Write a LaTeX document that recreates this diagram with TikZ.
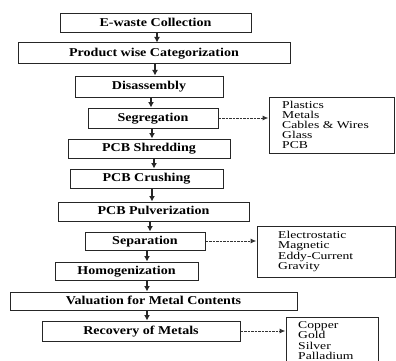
\documentclass[tikz,border=0pt]{standalone}
\usepackage{fontspec}
\setmainfont{Liberation Serif}[FakeStretch=1.17]
\newfontfamily\listfont{Liberation Serif}[FakeStretch=1.3]
\usetikzlibrary{arrows.meta}
\begin{document}
\begin{tikzpicture}[x=1pt,y=-1pt,
  box/.style={draw=black!85, line width=1pt, inner sep=0pt,
    font=\fontsize{12}{12}\selectfont\bfseries, text height=8.5pt, text depth=2.5pt},
  listbox/.style={draw=black!85, line width=1pt, inner sep=0pt},
  item/.style={anchor=base west, inner sep=0pt, font=\listfont\fontsize{10.5}{10.5}\selectfont},
  down/.style={draw=black!85, line width=1.2pt, -{Latex[length=5.5pt,width=6pt]}},
  side/.style={draw=black!80, line width=1pt, dash pattern=on 2.5pt off 1pt, -{Latex[length=6pt,width=5pt]}}]
\useasboundingbox (0,0) rectangle (396,361);
\clip (0,0) rectangle (396,361);

% main flow
\node[box, minimum width=191pt, minimum height=19pt] (ew)   at (155.5,23.5) {E-waste Collection};
\node[box, minimum width=272pt, minimum height=21pt] (cat)  at (154,53.5)   {Product wise Categorization};
\node[box, minimum width=148pt, minimum height=21pt] (dis)  at (149,86.5)   {Disassembly};
\node[box, minimum width=130pt, minimum height=20pt] (seg)  at (153,118)    {Segregation};
\node[box, minimum width=162pt, minimum height=19pt] (shr)  at (149,148.5)  {PCB Shredding};
\node[box, minimum width=153pt, minimum height=19pt] (cru)  at (146.5,178.5){PCB Crushing};
\node[box, minimum width=191pt, minimum height=19pt] (pul)  at (153.5,211.5){PCB Pulverization};
\node[box, minimum width=120pt, minimum height=18pt] (sep)  at (145,241)    {Separation};
\node[box, minimum width=143pt, minimum height=18pt] (hom)  at (126.5,271)  {Homogenization};
\node[box, minimum width=287pt, minimum height=18pt] (val)  at (153.5,301)  {Valuation for Metal Contents};
\node[box, minimum width=198pt, minimum height=20pt] (rec)  at (141,331)    {Recovery of Metals};

% side lists
\node[listbox, minimum width=125pt, minimum height=56pt] (la) at (331.5,125) {};
\node[item] (a1) at (282,108.5) {Plastics};
\node[item] (a2) at (282,118.5) {Metals};
\node[item] (a3) at (282,128.5) {Cables \& Wires};
\node[item] (a4) at (282,138.5) {Glass};
\node[item] (a5) at (282,148.5) {PCB};

\node[listbox, minimum width=138pt, minimum height=51pt] (lb) at (326,251.5) {};
\node[item] (b1) at (278,238) {Electrostatic};
\node[item] (b2) at (278,248.5) {Magnetic};
\node[item] (b3) at (278,259) {Eddy-Current};
\node[item] (b4) at (278,269.5) {Gravity};

\node[listbox, minimum width=92pt, minimum height=53pt] (lc) at (332,343.5) {};
\node[item] (c1) at (298,328.5) {Copper};
\node[item] (c2) at (298,338.5) {Gold};
\node[item] (c3) at (298,349) {Silver};
\node[item] (c4) at (298,359.5) {Palladium};

% arrow columns
\coordinate (v1) at (157,0);
\coordinate (v2) at (155,0);
\coordinate (v3) at (151,0);
\coordinate (v4) at (152,0);
\coordinate (v5) at (154,0);
\coordinate (v6) at (152,0);
\coordinate (v7) at (150,0);
\coordinate (v8) at (147,0);

\draw[down] (ew.south -| v1)  -- (cat.north -| v1);
\draw[down] (cat.south -| v2) -- (dis.north -| v2);
\draw[down] (dis.south -| v3) -- (seg.north -| v3);
\draw[down] (seg.south -| v4) -- (shr.north -| v4);
\draw[down] (shr.south -| v5) -- (cru.north -| v5);
\draw[down] (cru.south -| v6) -- (pul.north -| v6);
\draw[down] (pul.south -| v7) -- (sep.north -| v7);
\draw[down] (sep.south -| v8) -- (hom.north -| v8);
\draw[down] (hom.south -| v8) -- (val.north -| v8);
\draw[down] (val.south -| v8) -- (rec.north -| v8);

\draw[side] (seg.east) -- (seg.east -| la.west);
\draw[side] (sep.east) -- (sep.east -| lb.west);
\draw[side] (rec.east) -- (rec.east -| lc.west);
\end{tikzpicture}
\end{document}
